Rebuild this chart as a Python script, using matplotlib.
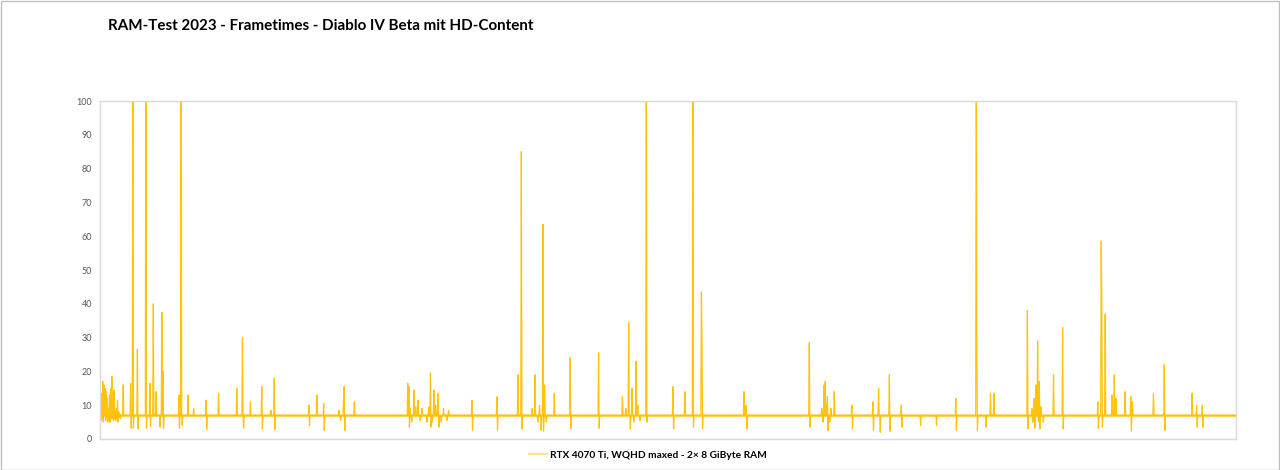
import numpy as np
import matplotlib
matplotlib.use("Agg")
import matplotlib.pyplot as plt
from matplotlib.lines import Line2D
from matplotlib.patches import Rectangle

plt.rcParams['font.family'] = ['Lato', 'DejaVu Sans']

# frametimes in ms (2000 frames across the x axis)
n_frames = 2000
baseline_ms = 7.0
band_lo, band_hi = 6.6, 7.4

# noisy start of the run
start_values = [8.5, 5.5, 13.5, 6, 17, 5, 16, 7, 15, 5.5, 14, 6, 12, 5, 9, 6.5,
                13, 5, 15, 6, 18.5, 6, 11, 5.5, 14.5, 6, 8, 5.5, 9, 6.5, 11.5, 5,
                8, 6.5, 7.5, 6]

# upward spikes: frame index, frametime (ms); 150 = off the chart
spike_idx = [40, 53, 57, 65, 80, 87, 93, 98, 108, 110, 138, 142, 154, 164, 186,
             208, 240, 250, 264, 284, 300, 306, 367, 381, 393, 428, 429, 447,
             541, 543, 552, 559, 581, 587, 594, 654, 698, 735, 741, 765, 779,
             782, 799, 827, 877, 919, 930, 936, 943, 961, 1008, 1029, 1043,
             1058, 1059, 1133, 1137, 1248, 1274, 1276, 1280, 1292, 1323, 1360,
             1370, 1389, 1410, 1506, 1542, 1543, 1567, 1573, 1632, 1644, 1647,
             1650, 1653, 1678, 1694, 1756, 1762, 1763, 1769, 1781, 1785, 1788,
             1804, 1814, 1817, 1854, 1873, 1922, 1930, 1940]
spike_ms = [16, 16.5, 150, 26.5, 150, 16.5, 40, 14, 37.5, 20, 13, 150, 13, 9,
            11.5, 13.5, 15, 30, 11, 15.5, 8.5, 18, 10, 13, 10.5, 12, 15.5, 11,
            16.5, 15.5, 14.5, 11.5, 19.5, 14.5, 13.5, 11.5, 12.5, 19, 85, 19,
            63.5, 16, 13.5, 24, 25.5, 12.5, 34.5, 15, 23, 150, 15.5, 14, 150,
            43.5, 30, 14, 10, 28.5, 16, 17, 12.5, 14, 10, 11, 15, 19, 10, 12,
            150, 27.8, 13.5, 13.5, 38, 12, 16, 29, 17, 19, 33, 11, 58.5, 40,
            37, 13, 19, 12, 14, 12.5, 11, 13.5, 22, 13.5, 10, 10]

# downward dips: frame index, frametime (ms)
dip_idx = [54, 58, 66, 81, 88, 105, 111, 139, 144, 187, 252, 285, 307, 368,
           394, 430, 544, 582, 596, 655, 699, 742, 776, 780, 828, 878, 933,
           962, 1009, 1044, 1060, 1138, 1249, 1281, 1324, 1361, 1373, 1390,
           1411, 1444, 1472, 1507, 1544, 1559, 1633, 1645, 1654, 1695, 1757,
           1764, 1815, 1874, 1931, 1941]
dip_ms = [3.2, 3.2, 3, 3.2, 3.8, 3.5, 3.1, 3.2, 4, 2.8, 3.2, 3, 2.8, 4, 2.5,
          2.5, 3.5, 3.5, 3.5, 2.5, 2.5, 3, 2.5, 2.3, 3, 3.2, 3, 5, 3, 3.5, 3,
          3, 3.5, 2.5, 3, 2.5, 2, 2.3, 3.5, 4, 4, 2.5, 2.5, 3.5, 3, 3.2, 3, 3,
          3, 3.5, 2.3, 2.5, 3.5, 3.5]

# small wobbles in the busier stretches
wobble_idx = [420, 423, 545, 548, 555, 563, 566, 575, 578, 584, 590, 600, 604,
              610, 613, 760, 770, 773, 785, 925, 939, 946, 950, 1270, 1272,
              1278, 1284, 1286, 1640, 1642, 1648, 1652, 1656, 1660]
wobble_ms = [8.5, 5.5, 9, 5, 9.5, 5.5, 9, 5, 9.5, 5, 10, 5, 9, 5.5, 8.5, 9, 5,
             10, 5, 9, 5, 10, 5.5, 9, 5, 10, 5, 9, 9, 5, 10, 5, 9.5, 5]

label = "RTX 4070 Ti, WQHD maxed - 2× 8 GiByte RAM"
title = "RAM-Test 2023 - Frametimes - Diablo IV Beta mit HD-Content"
gold = "#FFC000"

frames = np.arange(n_frames)
frametime = np.full(n_frames, baseline_ms)
frametime[:len(start_values)] = start_values
frametime[wobble_idx] = wobble_ms
frametime[dip_idx] = dip_ms
frametime[spike_idx] = spike_ms

fig = plt.figure(figsize=(12.8, 4.7), dpi=100)
ax = fig.add_axes([0.0785, 0.066, 0.887, 0.719])

ax.fill_between(frames, band_lo, band_hi, color=gold, lw=0, alpha=0.7)
ax.plot(frames, frametime, color=gold, lw=0.9, alpha=0.95)

ax.set_xlim(0, n_frames - 1)
ax.set_ylim(0, 100)
ax.set_yticks(np.arange(0, 101, 10))
ax.set_xticks([])
ax.tick_params(axis='y', length=0, labelsize=6.5, labelcolor='#595959', pad=6)
for s in ax.spines.values():
    s.set_color('#D9D9D9')
    s.set_linewidth(1.0)

fig.text(0.084, 0.945, title, fontsize=10.9, fontweight='bold', color='black',
         ha='left', va='center')

handle = Line2D([], [], color='#FFE08A', lw=1.5)
fig.legend([handle], [label], loc='center', bbox_to_anchor=(0.506, 0.032),
           frameon=False, handlelength=1.8, handletextpad=0.3,
           prop={'size': 7.3, 'weight': 'bold'})

fig.patches.append(Rectangle((0.0005, 0.001), 0.999, 0.997, transform=fig.transFigure,
                             fill=False, edgecolor='#BFBFBF', lw=1.0))

fig.savefig("out.png", dpi=100, facecolor='white')
